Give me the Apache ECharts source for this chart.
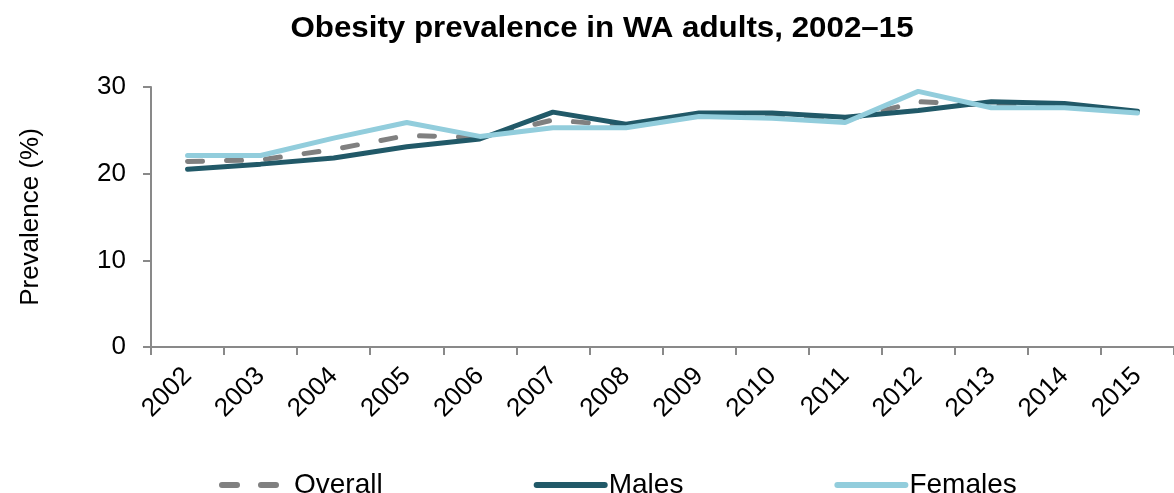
<!DOCTYPE html>
<html>
<head>
<meta charset="utf-8">
<script src="https://cdn.jsdelivr.net/npm/echarts@6/dist/echarts.min.js"></script>
<style>
  html, body {margin: 0; padding: 0; background: #fff;}
  #chart {width: 1174px; height: 493px;}
</style>
</head>
<body>
<div id="chart"></div>
<script>
const years = ['2002','2003','2004','2005','2006','2007','2008','2009','2010','2011','2012','2013','2014','2015'];
const overall = [21.4, 21.6, 22.8, 24.4, 24.2, 26.2, 25.5, 26.7, 26.7, 26.2, 28.3, 27.9, 27.8, 27.1];
const males   = [20.5, 21.1, 21.8, 23.1, 24.0, 27.1, 25.7, 27.0, 27.0, 26.5, 27.3, 28.3, 28.1, 27.2];
const females = [22.1, 22.1, 24.1, 25.9, 24.3, 25.3, 25.3, 26.6, 26.4, 25.9, 29.5, 27.6, 27.6, 27.0];
const yTicks = {min: 0, max: 30, interval: 10};

const font = 'Liberation Sans, Arial, sans-serif';
const axisGrey = '#898989';

const chart = echarts.init(document.getElementById('chart'));
chart.setOption({
  animation: false,
  // title is drawn a bit wide in the original, so stretch it
  graphic: [{
    type: 'text',
    x: 602,
    y: 29,
    scaleX: 1.08,
    style: {
      text: 'Obesity prevalence in WA adults, 2002–15',
      fontFamily: font,
      fontSize: 29,
      fontWeight: 'bold',
      fill: '#000',
      align: 'center',
      verticalAlign: 'middle'
    }
  }],
  legend: {
    left: 214,
    top: 466,
    itemWidth: 68,
    itemHeight: 6,
    itemGap: 151,
    itemStyle: {opacity: 0},
    lineStyle: {width: 6, cap: 'round'},
    textStyle: {fontFamily: font, fontSize: 28, color: '#000', padding: [0, 0, 0, -1]},
    data: ['Overall', 'Males', 'Females']
  },
  grid: {left: 151, top: 87, right: -3, bottom: 146},
  xAxis: {
    type: 'category',
    data: years,
    boundaryGap: true,
    axisLine: {lineStyle: {color: axisGrey, width: 2}},
    axisTick: {show: true, length: 8, lineStyle: {color: axisGrey, width: 2}},
    axisLabel: {rotate: 45, fontFamily: font, fontSize: 26, color: '#000', margin: 25}
  },
  yAxis: {
    type: 'value',
    min: yTicks.min,
    max: yTicks.max,
    interval: yTicks.interval,
    name: 'Prevalence (%)',
    nameLocation: 'middle',
    nameGap: 107,
    nameTextStyle: {fontFamily: font, fontSize: 26, color: '#000'},
    splitLine: {show: false},
    axisLine: {show: true, lineStyle: {color: axisGrey, width: 2}},
    axisTick: {show: true, length: 8, lineStyle: {color: axisGrey, width: 2}},
    axisLabel: {fontFamily: font, fontSize: 26, color: '#000', margin: 25}
  },
  series: [{
    name: 'Overall',
    type: 'line',
    data: overall,
    symbol: 'none',
    color: '#808080',
    lineStyle: {width: 5, type: [15, 24], cap: 'round'}
  }, {
    name: 'Males',
    type: 'line',
    data: males,
    symbol: 'none',
    color: '#215968',
    lineStyle: {width: 5, cap: 'round'}
  }, {
    name: 'Females',
    type: 'line',
    data: females,
    symbol: 'none',
    color: '#92CDDC',
    lineStyle: {width: 5, cap: 'round'}
  }]
});
</script>
</body>
</html>
